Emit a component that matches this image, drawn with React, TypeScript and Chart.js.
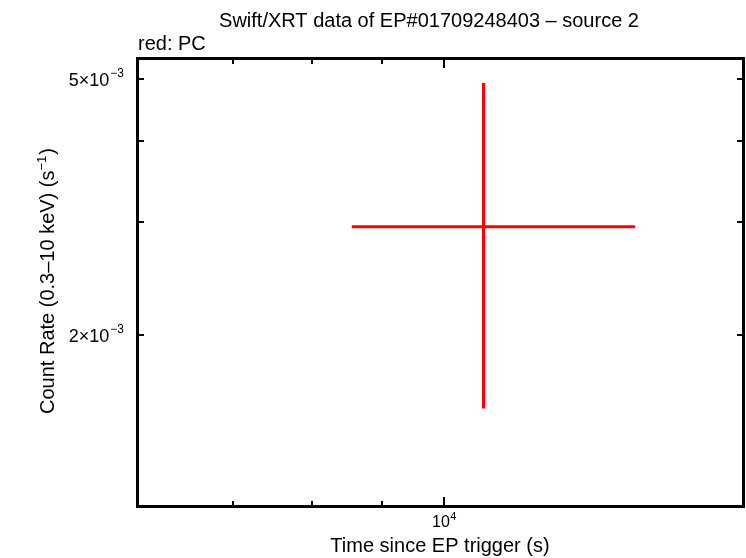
import React, { useEffect, useRef } from "react";
import { Chart, registerables } from "chart.js";

Chart.register(...registerables);

// ---- data ----
const xTime = [10690];
const xTimeLow = [8560];
const xTimeHigh = [13800];
const yRate = [2.946e-3];
const yRateLow = [1.54e-3];
const yRateHigh = [4.92e-3];

// ---- axes ----
const xRange = [5968, 16590];
const yRange = [1.087e-3, 5.38e-3];
const xMajorTicks = [1e4];
const xMinorTicks = [7000, 8000, 9000, 20000];
const yMajorTicks = [1e-3, 1e-2];
const yMinorTicks = [2e-3, 3e-3, 4e-3, 5e-3];
const xLabelValues = [1e4];
const xLabelExponents = ["4"];
const yLabelValues = [5e-3, 2e-3];
const yLabelMantissas = ["5", "2"];
const yLabelExponents = ["−3", "−3"];

const titleText = "Swift/XRT data of EP#01709248403 – source 2";
const subtitleText = "red: PC";
const xTitleText = "Time since EP trigger (s)";
const yTitleMain = "Count Rate (0.3–10 keV) (s";
const yTitleSup = "−1";
const yTitleEnd = ")";

const FONT = "'Liberation Sans', Arial, Helvetica, sans-serif";
const RED = "#ff0000";

const framePlugin = {
  id: "framePlugin",
  afterDraw(chart: any) {
    const ctx = chart.ctx as CanvasRenderingContext2D;
    const { left, right, top, bottom } = chart.chartArea;
    const xs = chart.scales.x;
    const ys = chart.scales.y;
    ctx.save();
    ctx.strokeStyle = "#000";
    ctx.fillStyle = "#000";
    // frame
    ctx.lineWidth = 3;
    ctx.strokeRect(left - 0.5, top + 0.5, right - left, bottom - top);
    ctx.lineWidth = 2;
    const inX = (v: number) => v > xRange[0] * 1.01 && v < xRange[1] / 1.01;
    const inY = (v: number) => v > yRange[0] * 1.01 && v < yRange[1] / 1.01;
    const xTick = (v: number, len: number) => {
      const px = Math.round(xs.getPixelForValue(v));
      ctx.beginPath();
      ctx.moveTo(px, bottom + 1);
      ctx.lineTo(px, bottom - len);
      ctx.moveTo(px, top);
      ctx.lineTo(px, top + 1 + len);
      ctx.stroke();
    };
    const yTick = (v: number, len: number) => {
      const py = Math.round(ys.getPixelForValue(v));
      ctx.beginPath();
      ctx.moveTo(left - 1, py);
      ctx.lineTo(left + 1 + len, py);
      ctx.moveTo(right, py);
      ctx.lineTo(right - 2 - len, py);
      ctx.stroke();
    };
    xMinorTicks.filter(inX).forEach((v) => xTick(v, 5));
    xMajorTicks.filter(inX).forEach((v) => xTick(v, 9));
    yMinorTicks.filter(inY).forEach((v) => yTick(v, 5));
    yMajorTicks.filter(inY).forEach((v) => yTick(v, 9));

    // tick labels
    ctx.textBaseline = "alphabetic";
    xLabelValues.forEach((v, i) => {
      const px = xs.getPixelForValue(v);
      ctx.font = `16px ${FONT}`;
      const base = "10";
      const wb = ctx.measureText(base).width;
      ctx.font = `11px ${FONT}`;
      const we = ctx.measureText(xLabelExponents[i]).width;
      const x0 = px - (wb + we) / 2;
      ctx.font = `16px ${FONT}`;
      ctx.textAlign = "left";
      ctx.fillText(base, x0, 527);
      ctx.font = `11px ${FONT}`;
      ctx.fillText(xLabelExponents[i], x0 + wb + 0.5, 520);
    });
    yLabelValues.forEach((v, i) => {
      const py = ys.getPixelForValue(v);
      const base = `${yLabelMantissas[i]}×10`;
      ctx.font = `12px ${FONT}`;
      const we = ctx.measureText(yLabelExponents[i]).width;
      const xEnd = 124;
      ctx.textAlign = "left";
      ctx.fillText(yLabelExponents[i], xEnd - we, py - 2);
      ctx.font = `18px ${FONT}`;
      ctx.textAlign = "right";
      ctx.fillText(base, xEnd - we - 1, py + 7);
    });

    // titles
    ctx.font = `20px ${FONT}`;
    ctx.textAlign = "center";
    ctx.fillText(titleText, 429, 27);
    ctx.textAlign = "left";
    ctx.fillText(subtitleText, 138, 50);
    ctx.font = `20px ${FONT}`;
    ctx.textAlign = "center";
    ctx.fillText(xTitleText, 440, 552);

    // y title (rotated)
    ctx.translate(54, 281);
    ctx.rotate(-Math.PI / 2);
    ctx.font = `20px ${FONT}`;
    const w1 = ctx.measureText(yTitleMain).width;
    const w3 = ctx.measureText(yTitleEnd).width;
    ctx.font = `13px ${FONT}`;
    const w2 = ctx.measureText(yTitleSup).width;
    const total = w1 + w2 + w3 + 1;
    let x = -total / 2;
    ctx.textAlign = "left";
    ctx.font = `20px ${FONT}`;
    ctx.fillText(yTitleMain, x, 0);
    x += w1;
    ctx.font = `13px ${FONT}`;
    ctx.fillText(yTitleSup, x, -8);
    x += w2 + 1;
    ctx.font = `20px ${FONT}`;
    ctx.fillText(yTitleEnd, x, 0);
    ctx.restore();
  },
};

export default function App() {
  const ref = useRef<HTMLCanvasElement | null>(null);
  useEffect(() => {
    document.body.style.margin = "0";
    const canvas = ref.current;
    if (!canvas) return;
    const hBar = xTime.map((_, i) => [
      { x: xTimeLow[i], y: yRate[i] },
      { x: xTimeHigh[i], y: yRate[i] },
    ]);
    const vBar = xTime.map((_, i) => [
      { x: xTime[i], y: yRateLow[i] },
      { x: xTime[i], y: yRateHigh[i] },
    ]);
    const datasets: any[] = [];
    hBar.concat(vBar).forEach((pts) =>
      datasets.push({
        data: pts,
        showLine: true,
        borderColor: RED,
        backgroundColor: RED,
        borderWidth: 3,
        pointRadius: 0,
        borderCapStyle: "butt",
      })
    );
    const chart = new Chart(canvas, {
      type: "scatter",
      data: { datasets },
      options: {
        responsive: false,
        animation: false,
        devicePixelRatio: 1,
        layout: { padding: { left: 138, right: 2, top: 58, bottom: 52 } },
        plugins: {
          legend: { display: false },
          tooltip: { enabled: false },
          title: { display: false },
        },
        scales: {
          x: { type: "logarithmic", min: xRange[0], max: xRange[1], display: false },
          y: { type: "logarithmic", min: yRange[0], max: yRange[1], display: false },
        },
      },
      plugins: [framePlugin],
    });
    return () => chart.destroy();
  }, []);
  return (
    <div style={{ width: 746, height: 558, background: "#fff" }}>
      <canvas ref={ref} width={746} height={558} style={{ display: "block" }} />
    </div>
  );
}
